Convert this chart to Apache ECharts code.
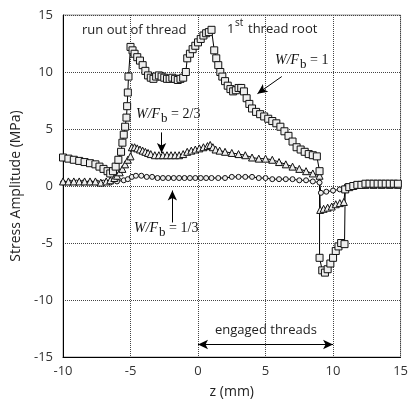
<!DOCTYPE html>
<html>
<head>
<meta charset="UTF-8">
<script src="https://cdn.jsdelivr.net/npm/echarts@6/dist/echarts.min.js"></script>
<style>
  html, body { margin: 0; padding: 0; background: #fff; }
  #main { width: 411px; height: 405px; }
</style>
</head>
<body>
<div id="main"></div>
<script>
// axis ticks
var xTicks = [-10, -5, 0, 5, 10, 15];
var yTicks = [-15, -10, -5, 0, 5, 10, 15];

// W/Fb = 1 (squares)
var wf1 = [
  [-10.0, 2.5], [-9.6, 2.4], [-9.2, 2.3], [-8.8, 2.2], [-8.4, 2.1], [-8.0, 2.0], [-7.6, 1.9],
  [-7.3, 1.7], [-7.0, 1.5], [-6.7, 1.3], [-6.5, 1.1], [-6.3, 1.3], [-6.1, 1.7], [-5.9, 2.3],
  [-5.7, 3.0], [-5.6, 3.8], [-5.5, 4.5], [-5.4, 5.2], [-5.3, 6.0], [-5.25, 7.0], [-5.2, 8.2],
  [-5.15, 9.6], [-5.0, 12.2], [-4.85, 11.9], [-4.7, 11.6], [-4.5, 11.3], [-4.3, 11.0],
  [-4.1, 10.6], [-3.9, 10.1], [-3.7, 9.7], [-3.5, 9.5], [-3.3, 9.4], [-3.1, 9.6], [-2.9, 9.7],
  [-2.7, 9.6], [-2.5, 9.5], [-2.3, 9.4], [-2.1, 9.4], [-1.9, 9.5], [-1.7, 9.4], [-1.5, 9.3],
  [-1.3, 9.4], [-1.1, 9.5], [-0.9, 10.0], [-0.8, 11.2], [-0.6, 11.6], [-0.4, 12.0],
  [-0.2, 12.3], [0.0, 12.6], [0.2, 12.9], [0.4, 13.2], [0.6, 13.4], [0.8, 13.5], [1.0, 13.7],
  [1.2, 11.9], [1.35, 11.2], [1.5, 10.6], [1.65, 10.0], [1.8, 9.6], [2.0, 9.2], [2.2, 8.8],
  [2.4, 8.5], [2.6, 8.3], [2.8, 8.4], [3.0, 8.6], [3.2, 8.6], [3.4, 8.3], [3.6, 7.7],
  [3.8, 7.2], [4.0, 6.8], [4.3, 6.5], [4.6, 6.3], [4.9, 6.1], [5.2, 5.9], [5.5, 5.7],
  [5.8, 5.5], [6.1, 5.2], [6.4, 4.8], [6.7, 4.4], [7.0, 3.9], [7.3, 3.4], [7.6, 3.2],
  [7.9, 3.0], [8.2, 2.8], [8.5, 2.7], [8.8, 2.6], [9.0, 1.3], [9.0, -6.3], [9.2, -7.4],
  [9.4, -7.6], [9.6, -7.3], [9.8, -6.8], [10.0, -6.3], [10.2, -5.7], [10.4, -5.3],
  [10.6, -5.0], [10.85, -5.1], [10.9, -0.3], [11.2, -0.1], [11.5, 0.0], [11.8, 0.1],
  [12.1, 0.1], [12.4, 0.2], [12.7, 0.2], [13.0, 0.2], [13.3, 0.2], [13.6, 0.2], [13.9, 0.2],
  [14.2, 0.2], [14.5, 0.2], [14.8, 0.2]
];

// W/Fb = 2/3 (triangles)
var wf23 = [
  [-10.0, 0.4], [-9.6, 0.4], [-9.2, 0.4], [-8.8, 0.4], [-8.4, 0.4], [-8.0, 0.4], [-7.6, 0.4],
  [-7.2, 0.3], [-6.8, 0.4], [-6.5, 0.5], [-6.2, 0.7], [-6.0, 0.9], [-5.8, 1.2], [-5.6, 1.5],
  [-5.4, 1.9], [-5.2, 2.3], [-5.0, 2.6], [-4.9, 3.4], [-4.7, 3.4], [-4.5, 3.3], [-4.3, 3.2],
  [-4.1, 3.1], [-3.9, 3.0], [-3.7, 2.9], [-3.5, 2.8], [-3.2, 2.7], [-2.9, 2.7], [-2.6, 2.7],
  [-2.3, 2.7], [-2.0, 2.7], [-1.7, 2.7], [-1.4, 2.7], [-1.1, 2.8], [-0.8, 3.0], [-0.5, 3.1],
  [-0.2, 3.2], [0.1, 3.3], [0.4, 3.4], [0.7, 3.5], [0.9, 3.6], [1.1, 3.4], [1.3, 3.2],
  [1.6, 3.1], [2.0, 3.0], [2.5, 2.9], [3.0, 2.8], [3.5, 2.7], [4.0, 2.5], [4.5, 2.4],
  [5.0, 2.4], [5.5, 2.3], [6.0, 2.1], [6.5, 1.9], [7.0, 1.7], [7.5, 1.5], [8.0, 1.3],
  [8.5, 1.1], [9.0, 0.9], [9.05, -2.1], [9.3, -2.0], [9.6, -1.9], [9.9, -1.8], [10.2, -1.6],
  [10.5, -1.5], [10.8, -1.4], [10.9, -0.2], [11.3, 0.0], [11.8, 0.1], [12.4, 0.1],
  [13.0, 0.1], [13.6, 0.1], [14.2, 0.1], [14.8, 0.1]
];

// W/Fb = 1/3 (circles)
var wf13 = [
  [-10.0, 0.3], [-9.5, 0.3], [-9.0, 0.3], [-8.5, 0.3], [-8.0, 0.3], [-7.5, 0.3], [-7.0, 0.3],
  [-6.5, 0.3], [-6.0, 0.4], [-5.5, 0.5], [-5.2, 0.6], [-4.9, 0.8], [-4.6, 0.9], [-4.2, 0.9],
  [-3.8, 0.8], [-3.4, 0.8], [-3.0, 0.7], [-2.6, 0.7], [-2.2, 0.7], [-1.8, 0.7], [-1.4, 0.7],
  [-1.0, 0.7], [-0.6, 0.7], [-0.2, 0.7], [0.2, 0.7], [0.6, 0.7], [1.0, 0.7], [1.5, 0.7],
  [2.0, 0.7], [2.5, 0.8], [3.0, 0.8], [3.5, 0.8], [4.0, 0.8], [4.5, 0.7], [5.0, 0.7],
  [5.5, 0.6], [6.0, 0.6], [6.5, 0.6], [7.0, 0.6], [7.5, 0.5], [8.0, 0.5], [8.5, 0.4],
  [9.0, 0.3], [9.1, -0.6], [9.5, -0.5], [10.0, -0.4], [10.5, -0.3], [11.0, 0.0],
  [11.5, 0.1], [12.0, 0.1], [12.5, 0.1], [13.0, 0.1], [13.5, 0.1], [14.0, 0.1], [14.5, 0.1]
];

// annotation arrows [from, to] in data units
var arrowWf1 = [[6.2, 9.6], [4.4, 8.1]];
var arrowWf23 = [[-2.7, 4.7], [-2.7, 2.9]];
var arrowWf13 = [[-1.9, -3.2], [-1.9, -0.4]];
var engaged = [0, 10, -13.9];

var chart = echarts.init(document.getElementById('main'));

var sans = '"Open Sans", "Noto Sans", sans-serif';
var serif = '"Liberation Serif", "DejaVu Serif", serif';

function lineSeries(name, data, symbol, size) {
  return {
    name: name,
    type: 'line',
    data: data,
    symbol: symbol,
    symbolSize: size,
    showAllSymbol: true,
    animation: false,
    lineStyle: { color: '#000', width: 1 },
    itemStyle: { color: '#eeeeee', borderColor: '#111', borderWidth: 1 },
    z: 3
  };
}

function arrowLine(pair) {
  return [{ coord: pair[0] }, { coord: pair[1] }];
}

function wfRich(rest) {
  return {
    text: '{i|W/F}{s|b}{n| = ' + rest + '}',
    rich: {
      i: { fontFamily: serif, fontStyle: 'italic', fontSize: 14, fill: '#111', fontWeight: 'normal' },
      s: { fontFamily: serif, fontSize: 13, fill: '#111', verticalAlign: 'bottom', padding: [10, 0, 0, 1] },
      n: { fontFamily: serif, fontSize: 14, fill: '#111' }
    }
  };
}

var option = {
  backgroundColor: '#fff',
  animation: false,
  grid: {
    left: 63, right: 3, top: 15, bottom: 48,
    show: true, borderColor: '#999', borderWidth: 1
  },
  xAxis: {
    type: 'value',
    min: xTicks[0], max: xTicks[xTicks.length - 1], interval: 5,
    name: 'z (mm)', nameLocation: 'middle', nameGap: 28,
    nameTextStyle: { fontFamily: sans, fontSize: 14, color: '#222' },
    axisLine: { show: true, onZero: false, lineStyle: { color: '#000', width: 1 } },
    axisTick: { show: false },
    axisLabel: { fontFamily: sans, fontSize: 13, color: '#333', margin: 8 },
    splitLine: { show: true, lineStyle: { color: '#444', type: [1, 1], width: 1 } }
  },
  yAxis: {
    type: 'value',
    min: yTicks[0], max: yTicks[yTicks.length - 1], interval: 5,
    name: 'Stress Amplitude (MPa)', nameLocation: 'middle', nameGap: 39,
    nameTextStyle: { fontFamily: sans, fontSize: 14, color: '#222' },
    axisLine: { show: true, onZero: false, lineStyle: { color: '#000', width: 1 } },
    axisTick: { show: false },
    axisLabel: { fontFamily: sans, fontSize: 13, color: '#333', margin: 10 },
    splitLine: { show: true, lineStyle: { color: '#444', type: [1, 1], width: 1 } }
  },
  series: [
    lineSeries('W/Fb = 1/3', wf13, 'circle', 5),
    lineSeries('W/Fb = 2/3', wf23, 'triangle', 7),
    lineSeries('W/Fb = 1', wf1, 'rect', 7),
    {
      type: 'line',
      data: [],
      silent: true,
      markLine: {
        silent: true,
        animation: false,
        symbol: ['none', 'arrow'],
        symbolSize: [7, 10],
        label: { show: false },
        lineStyle: { color: '#000', width: 1, type: 'solid' },
        data: [
          arrowLine(arrowWf1),
          arrowLine(arrowWf23),
          arrowLine(arrowWf13),
          [{ coord: [5, engaged[2]], symbol: 'none' }, { coord: [engaged[1], engaged[2]] }],
          [{ coord: [5, engaged[2]], symbol: 'none' }, { coord: [engaged[0], engaged[2]] }]
        ]
      }
    }
  ],
  graphic: [
    { type: 'text', left: 82, top: 24, style: { text: 'run out of thread', fontFamily: sans, fontSize: 13, fill: '#222' } },
    { type: 'text', left: 227, top: 23, style: { text: '1', fontFamily: sans, fontSize: 13, fill: '#222' } },
    { type: 'text', left: 235, top: 18, style: { text: 'st', fontFamily: sans, fontSize: 10, fill: '#222' } },
    { type: 'text', left: 248, top: 23, style: { text: 'thread root', fontFamily: sans, fontSize: 13, fill: '#222' } },
    { type: 'text', left: 275, top: 53, style: wfRich('1') },
    { type: 'text', left: 136, top: 107, style: wfRich('2/3') },
    { type: 'text', left: 134, top: 221, style: wfRich('1/3') },
    { type: 'text', left: 215, top: 324, style: { text: 'engaged threads', fontFamily: sans, fontSize: 13, fill: '#222' } }
  ]
};

chart.setOption(option);
</script>
</body>
</html>
